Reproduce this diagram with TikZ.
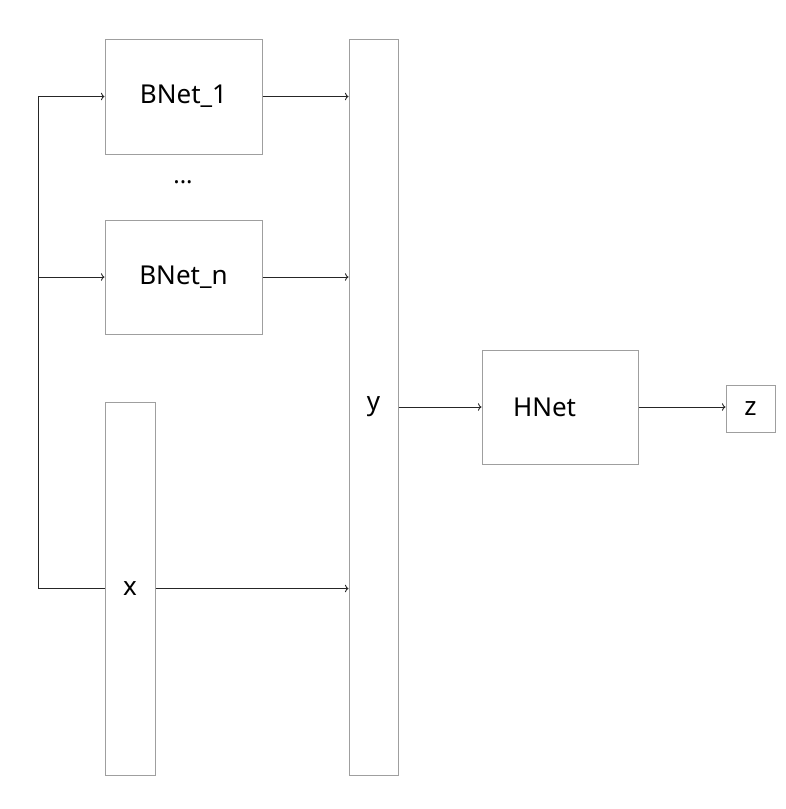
\documentclass[tikz,border=0pt]{standalone}
\usepackage{fontspec}
\setmainfont{Noto Sans}
\usepackage{tikz}
\usetikzlibrary{shapes, arrows.meta, positioning}

\tikzset{
    netbox/.style={draw=gray!75, rectangle, line width=1pt, inner sep=0pt, font=\fontsize{26}{30}\selectfont},
    link/.style={->, line width=0.9pt, black!85}
}

\begin{document}
\begin{tikzpicture}[x=1pt, y=-1pt]
            \useasboundingbox (0,0) rectangle (786,809);

            \node[netbox, minimum width=157pt, minimum height=115pt] (b1) at (183.5,96.5) {BNet\_1};
            \node[font=\fontsize{24}{28}\selectfont] (dots) at (183,182) {...};
            \node[netbox, minimum width=157pt, minimum height=114pt] (bn) at (183.5,277) {BNet\_n};
            \node[netbox, minimum width=50pt, minimum height=373pt] (x) at (130,588.5) {x};

            \node[netbox, minimum width=49pt, minimum height=736pt] (y) at (373.5,407) {y};
            \node[netbox, minimum width=156pt, minimum height=114pt, text width=150pt, align=left] (h) at (560,407) {\hspace*{28pt}HNet};
            \node[netbox, minimum width=49pt, minimum height=47pt] (z) at (750.5,408.5) {z};

            \coordinate (bustop) at (38,96.5);
            \coordinate (busbot) at (38,588.5);

            \draw[line width=0.9pt, black!85] (x.west) -- (busbot) -- (bustop);
            \draw[link] (bustop) -- (b1.west);
            \draw[link] (bustop |- bn.west) -- (bn.west);

            \draw[link] (b1.east) -- (b1.east -| y.west);
            \draw[link] (bn.east) -- (bn.east -| y.west);
            \draw[link] (x.east) -- (x.east -| y.west);
            \draw[link] (y.east) -- (h.west);
            \draw[link] (h.east) -- (h.east -| z.west);
        \end{tikzpicture}
\end{document}
